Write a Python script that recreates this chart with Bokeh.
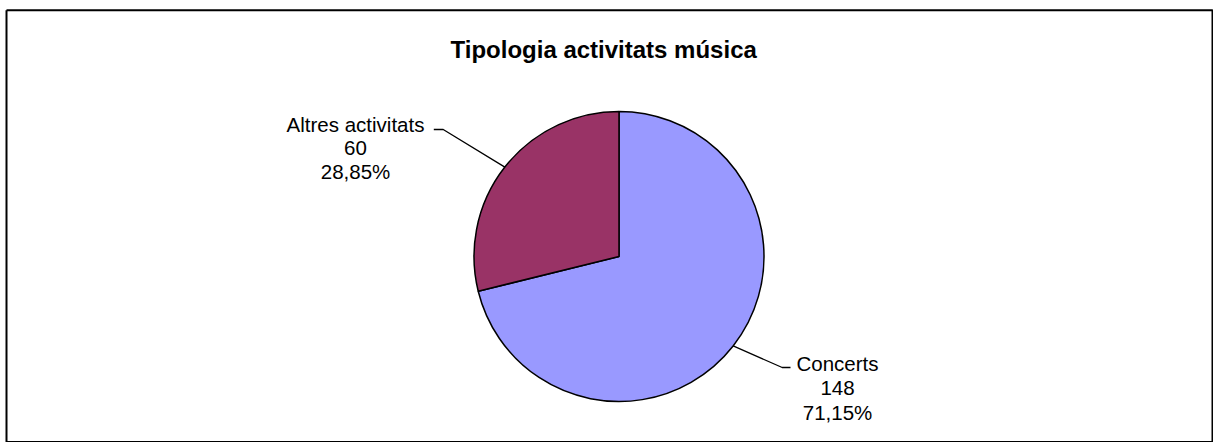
import math
from bokeh.plotting import figure
from bokeh.models import Range1d, ColumnDataSource
from bokeh.core.properties import value
from bokeh.embed import file_html
from bokeh.resources import INLINE

# ---- data ----
title = "Tipologia activitats  música"
categories = ["Concerts", "Altres activitats"]
counts = [148, 60]
colors = ["#9999FF", "#993366"]

# ---- layout (page pixel coords mapped to data units) ----
W, H = 1213, 442
def X(px):
    return px
def Y(py):
    return H - py

cx, cy, r = X(618.5), Y(256), 145.0
FONT = "Liberation Sans"

p = figure(width=W, height=H, output_backend="svg", toolbar_location=None,
           x_range=Range1d(0, W), y_range=Range1d(0, H),
           x_axis_location=None, y_axis_location=None, min_border=0,
           background_fill_color="white", border_fill_color="white")
p.grid.visible = False
p.outline_line_color = None

# chart frame
p.line(x=[X(6), X(1212), X(1212), X(6), X(6)],
       y=[Y(9.7), Y(9.7), Y(441.5), Y(441.5), Y(9.7)],
       line_color="black", line_width=2)

total = sum(counts)
# Concerts starts at 12 o'clock and runs clockwise
starts, ends, mids = [], [], []
a = math.pi / 2
for c in counts:
    span = 2 * math.pi * c / total
    starts.append(a - span)
    ends.append(a)
    mids.append(a - span / 2)
    a -= span

src = ColumnDataSource(dict(start=starts, end=ends, color=colors, name=categories))
p.wedge(x=cx, y=cy, radius=r, start_angle="start", end_angle="end",
        fill_color="color", line_color="black", line_width=1.5, source=src)

# title
p.text(x=[X(606.5)], y=[Y(49)], text=[title], text_font=value(FONT),
       text_font_size="24px", text_font_style="bold", text_align="center",
       text_baseline="middle", text_color="black")

def pct(c):
    return f"{100 * c / total:.2f}".replace(".", ",") + "%"

# label anchors (page px): center x, first-line y, line gap, leader elbow and end
label_layout = {
    "Concerts": dict(lx=837, ly=363.3, gap=24.2, elbow=(781.7, 367), end=(790, 367)),
    "Altres activitats": dict(lx=355, ly=124, gap=23.5, elbow=(442.7, 129), end=(433.3, 129)),
}

for name, c, m in zip(categories, counts, mids):
    L = label_layout[name]
    ex, ey = cx + r * math.cos(m), cy + r * math.sin(m)
    p.line(x=[ex, X(L["elbow"][0]), X(L["end"][0])],
           y=[ey, Y(L["elbow"][1]), Y(L["end"][1])], line_color="black", line_width=1.3)
    lines = [name, str(c), pct(c)]
    ys = [Y(L["ly"] + i * L["gap"]) for i in range(3)]
    p.text(x=[X(L["lx"])] * 3, y=ys, text=lines, text_font=value(FONT),
           text_font_size="20.5px", text_align="center", text_baseline="middle",
           text_color="black")

open("out.html", "w").write(file_html(p, INLINE))
